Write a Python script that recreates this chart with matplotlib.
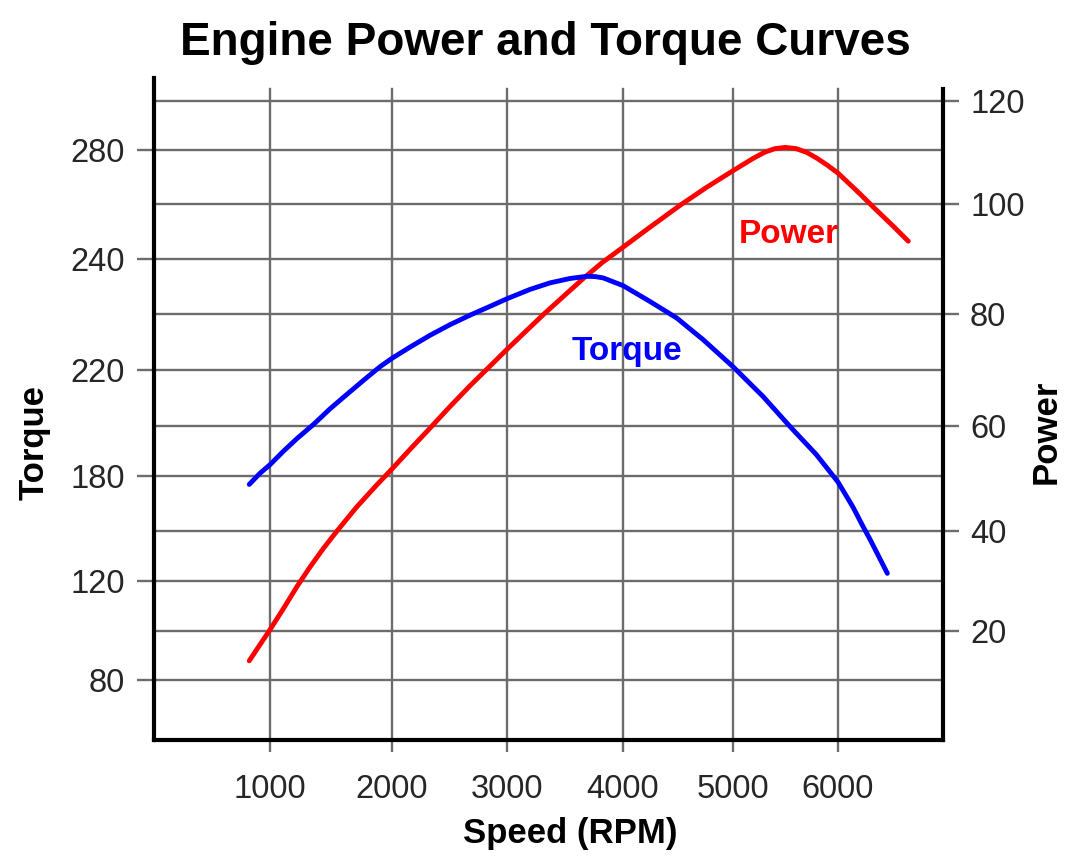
import numpy as np
import matplotlib
matplotlib.use("Agg")
import matplotlib.pyplot as plt
from matplotlib.ticker import NullLocator

plt.rcParams["font.family"] = ["Liberation Sans", "DejaVu Sans"]

# power curve (red)
rpm_power = [830, 916, 1000, 1109, 1219, 1328, 1437, 1546, 1708, 1872, 2000,
             2157, 2330, 2504, 2678, 2852, 3000, 3141, 3313, 3485, 3658, 3820,
             4000, 4243, 4518, 4758, 5000, 5194, 5300, 5400, 5500, 5600, 5700,
             5800, 5900, 6003, 6178, 6352, 6527, 6669]
power = [13.9, 17.1, 20.2, 24.4, 28.8, 32.8, 36.5, 39.9, 44.3, 48.3, 51.4,
         55.3, 59.5, 63.4, 67.1, 70.6, 73.6, 76.4, 79.8, 83.1, 86.4, 89.3,
         92.1, 95.7, 99.7, 103.0, 106.1, 108.4, 109.5, 110.2, 110.45, 110.2, 109.5,
         108.4, 107.1, 105.6, 102.4, 99.1, 95.9, 93.2]

# torque curve (blue)
rpm_torque = [830, 916, 1000, 1109, 1219, 1355, 1492, 1629, 1765, 1902, 2000,
              2157, 2330, 2504, 2678, 2852, 3000, 3198, 3371, 3543, 3687, 3760,
              3830, 4000, 4245, 4488, 4730, 5000, 5286, 5540, 5794, 6000, 6143,
              6238, 6305, 6470]
torque = [175.4, 181.0, 184.5, 189.8, 194.8, 200.4, 206.0, 211.1, 216.1, 220.5, 222.0,
          224.0, 226.1, 228.0, 229.7, 231.3, 232.7, 234.4, 235.6, 236.4, 236.8, 236.75,
          236.5, 235.1, 232.2, 229.2, 225.3, 220.5, 210.4, 199.8, 188.5, 176.7, 163.0,
          152.5, 145.0, 124.6]

rpm_ticks = [1000, 2000, 3000, 4000, 5000, 6000]
power_ticks = [20, 40, 60, 80, 100, 120]
power_grid = [10, 20, 30, 40, 50, 60, 70, 80, 90, 100, 110, 120]
torque_ticks = [80, 120, 180, 220, 240, 280]
# the torque labels sit on every other power gridline
torque_on_power = [10, 30, 50, 70, 90, 110]

# scale calibration: pixel rows/cols of the gridlines in the 1080x864 picture
W, H = 1080, 864
RPM_PX = [270, 392, 507, 623, 733, 838]
POWER_PX = [680, 630.7, 581, 531, 476, 425.7, 369.5, 313.5, 258.8, 203.7, 149.6, 100.7]
AX_L, AX_R, AX_T, AX_B = 154, 943, 78, 740
GRID_TOP = 89

GRID = "#6c6c6c"
TICK_TXT = "#262626"


def interp_ext(v, xs, ys):
    v = np.asarray(v, dtype=float)
    xs = np.asarray(xs, dtype=float)
    ys = np.asarray(ys, dtype=float)
    out = np.interp(v, xs, ys)
    lo = (ys[1] - ys[0]) / (xs[1] - xs[0])
    hi = (ys[-1] - ys[-2]) / (xs[-1] - xs[-2])
    out = np.where(v < xs[0], ys[0] + (v - xs[0]) * lo, out)
    out = np.where(v > xs[-1], ys[-1] + (v - xs[-1]) * hi, out)
    return out


neg_power_px = [-p for p in POWER_PX]


def rpm_fwd(v):
    return interp_ext(v, rpm_ticks, RPM_PX)


def rpm_inv(u):
    return interp_ext(u, RPM_PX, rpm_ticks)


def pow_fwd(v):
    return interp_ext(v, power_grid, neg_power_px)


def pow_inv(u):
    return interp_ext(u, neg_power_px, power_grid)


def tq_fwd(v):
    return pow_fwd(interp_ext(v, torque_ticks, torque_on_power))


def tq_inv(u):
    return interp_ext(pow_inv(u), torque_on_power, torque_ticks)


fig = plt.figure(figsize=(W / 100, H / 100), dpi=100)
ax = fig.add_axes([AX_L / W, 1 - AX_B / H, (AX_R - AX_L) / W, (AX_B - AX_T) / H])
ax.set_xscale("function", functions=(rpm_fwd, rpm_inv))
ax.set_yscale("function", functions=(pow_fwd, pow_inv))
ax.set_xlim(float(rpm_inv(AX_L)), float(rpm_inv(AX_R)))
ax.set_ylim(float(pow_inv(-AX_B)), float(pow_inv(-AX_T)))

ax_t = ax.twinx()
ax_t.set_yscale("function", functions=(tq_fwd, tq_inv))
ax_t.set_ylim(float(tq_inv(-AX_B)), float(tq_inv(-AX_T)))

# power axis on the right, with the horizontal grid
ax.yaxis.set_ticks_position("right")
ax.yaxis.set_label_position("right")
ax.set_yticks(power_ticks)
ax.set_yticklabels([str(p) for p in power_ticks])
ax.set_yticks(power_grid, minor=True)
ax.tick_params(axis="y", which="major", length=11.5, width=1.7, color=GRID,
               pad=8, labelsize=23.5, labelcolor=TICK_TXT)
ax.tick_params(axis="y", which="minor", length=0, labelright=False)
ax.grid(axis="y", which="both", color=GRID, lw=1.7)
ax.set_axisbelow(True)

ax.set_xticks(rpm_ticks)
ax.set_xticklabels([str(r) for r in rpm_ticks])
ax.xaxis.set_minor_locator(NullLocator())
ax.tick_params(axis="x", length=8.6, width=1.7, color=GRID, pad=16,
               labelsize=23.5, labelcolor=TICK_TXT)
grid_frac = (AX_B - GRID_TOP) / (AX_B - AX_T)
for r in rpm_ticks:
    ax.axvline(r, ymin=0, ymax=grid_frac, color=GRID, lw=1.7, zorder=0.6)

# torque axis on the left
ax_t.yaxis.set_ticks_position("left")
ax_t.yaxis.set_label_position("left")
ax_t.set_yticks(torque_ticks)
ax_t.set_yticklabels([str(t) for t in torque_ticks])
ax_t.yaxis.set_minor_locator(NullLocator())
ax_t.tick_params(axis="y", length=12, width=1.7, color=GRID, pad=9,
                 labelsize=23.5, labelcolor=TICK_TXT)

for s in ["top", "left"]:
    ax.spines[s].set_visible(False)
for s in ["top", "right", "bottom"]:
    ax_t.spines[s].set_visible(False)
ax.spines["right"].set_bounds(float(pow_inv(-AX_B)), float(pow_inv(-GRID_TOP)))
for sp in [ax.spines["right"], ax.spines["bottom"], ax_t.spines["left"]]:
    sp.set_linewidth(3)
    sp.set_color("black")
    sp.set_capstyle("projecting")

ax.plot(rpm_power, power, color="#ff0000", lw=3.5, solid_capstyle="round",
        solid_joinstyle="round", zorder=3)
ax_t.plot(rpm_torque, torque, color="#0000ff", lw=3.5, solid_capstyle="round",
          solid_joinstyle="round", zorder=3)

ax.text(5533, 94.5, "Power", color="#ff0000", fontsize=24, fontweight="bold",
        ha="center", va="center")
ax_t.text(4036, 223.3, "Torque", color="#0000ff", fontsize=24, fontweight="bold",
          ha="center", va="center")

ax.set_xlabel("Speed (RPM)", fontsize=25, fontweight="bold", va="center")
ax.xaxis.set_label_coords(570 / W, 1 - 833 / H, transform=fig.transFigure)
ax_t.set_ylabel("Torque", fontsize=25, fontweight="bold", va="center", ha="center")
ax_t.yaxis.set_label_coords(34 / W, 1 - 442 / H, transform=fig.transFigure)
ax.set_ylabel("Power", fontsize=25, fontweight="bold", va="center", ha="center")
ax.yaxis.set_label_coords(1046 / W, 1 - 432 / H, transform=fig.transFigure)

fig.text(545 / W, 1 - 55 / H, "Engine Power and Torque Curves", fontsize=33,
         fontweight="bold", ha="center", va="baseline")

fig.savefig("out.png", dpi=100)
